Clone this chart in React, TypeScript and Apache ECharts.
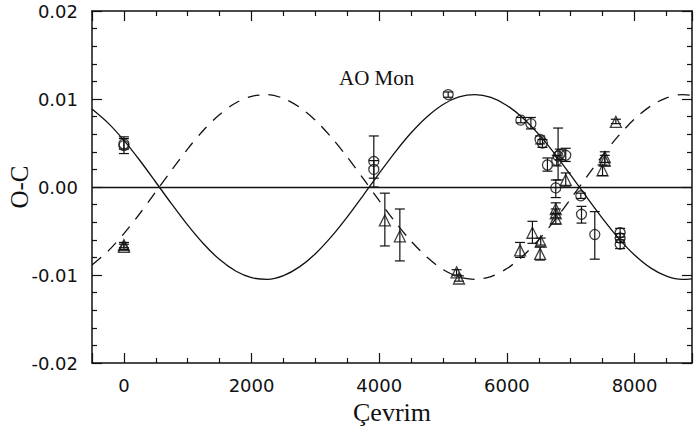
import React, { useEffect, useRef } from "react";
import * as echarts from "echarts";

// Model curves
const curveX = [-500, -250, 0, 250, 500, 750, 1000, 1250, 1500, 1750, 2000, 2250, 2500, 2750, 3000, 3250, 3500, 3750, 4000, 4250, 4500, 4750, 5000, 5250, 5500, 5750, 6000, 6250, 6500, 6750, 7000, 7250, 7500, 7750, 8000, 8250, 8500, 8750, 8900];
const solidY = [0.00887, 0.00729, 0.0053, 0.00301, 0.00054, -0.00195, -0.00434, -0.00648, -0.00825, -0.00955, -0.01031, -0.01049, -0.01007, -0.00908, -0.00758, -0.00564, -0.00339, -0.00094, 0.00156, 0.00397, 0.00616, 0.00799, 0.00938, 0.01023, 0.0105, 0.01018, 0.00927, 0.00785, 0.00598, 0.00377, 0.00134, -0.00116, -0.00359, -0.00583, -0.00773, -0.00919, -0.01013, -0.0105, -0.01043];
const dashedY = [-0.00887, -0.00729, -0.0053, -0.00301, -0.00054, 0.00195, 0.00434, 0.00648, 0.00825, 0.00955, 0.01031, 0.01049, 0.01007, 0.00908, 0.00758, 0.00564, 0.00339, 0.00094, -0.00156, -0.00397, -0.00616, -0.00799, -0.00938, -0.01023, -0.0105, -0.01018, -0.00927, -0.00785, -0.00598, -0.00377, -0.00134, 0.00116, 0.00359, 0.00583, 0.00773, 0.00919, 0.01013, 0.0105, 0.01043];

// Circles (O-C with error bars)
const circleX = [0, 0, 3915, 3915, 5080, 6218, 6376, 6520, 6557, 6635, 6781, 6802, 6830, 6922, 6766, 7158, 7169, 7377, 7774, 7774, 7774];
const circleY = [0.0047, 0.0049, 0.0029, 0.002, 0.0105, 0.0076, 0.0072, 0.0054, 0.005, 0.0025, 0.003, 0.0035, 0.0037, 0.0036, -0.0001, -0.001, -0.0031, -0.0054, -0.0052, -0.0058, -0.0065];
const circleLo = [0.0038, 0.0043, 0.0, 0.001, 0.0102, 0.0073, 0.0066, 0.0049, 0.0045, 0.0018, 0.0024, 0.0008, 0.0031, 0.0029, -0.0012, -0.0013, -0.0041, -0.0082, -0.0057, -0.0063, -0.007];
const circleHi = [0.0057, 0.0055, 0.0058, 0.003, 0.0108, 0.0079, 0.0079, 0.0058, 0.0054, 0.0033, 0.0036, 0.0067, 0.0043, 0.0044, 0.0008, -0.0007, -0.0022, -0.0028, -0.0047, -0.0053, -0.006];

// Triangles
const triX = [0, 0, 4088, 4323, 5212, 5249, 6206, 6400, 6530, 6520, 6766, 6766, 6766, 6922, 7498, 7534, 7534, 7707];
const triY = [-0.0068, -0.0066, -0.0038, -0.0056, -0.0097, -0.0104, -0.0072, -0.0052, -0.0062, -0.0076, -0.0025, -0.003, -0.0036, 0.0008, 0.0019, 0.0034, 0.003, 0.0074];
const triLo = [-0.0071, -0.0069, -0.0067, -0.0084, -0.01, -0.0107, -0.008, -0.0064, -0.0066, -0.0083, -0.003, -0.0035, -0.0042, 0.0001, 0.0013, 0.0028, 0.0024, 0.0072];
const triHi = [-0.0065, -0.0063, -0.0007, -0.0025, -0.0094, -0.0101, -0.0063, -0.0039, -0.0058, -0.0068, -0.0018, -0.0025, -0.003, 0.0016, 0.0025, 0.004, 0.0036, 0.0077];

const xTicksMin = -500;
const xTicksMax = 8900;
const yTicks = [-0.02, -0.01, 0, 0.01, 0.02];

const INK = "#111";

function errRender(params: any, api: any) {
  const x = api.value(0);
  const lo = api.value(2);
  const hi = api.value(3);
  const p1 = api.coord([x, lo]);
  const p2 = api.coord([x, hi]);
  const w = 5;
  const style = { stroke: INK, lineWidth: 1.2 };
  return {
    type: "group",
    children: [
      { type: "line", shape: { x1: p1[0], y1: p1[1], x2: p2[0], y2: p2[1] }, style },
      { type: "line", shape: { x1: p1[0] - w, y1: p1[1], x2: p1[0] + w, y2: p1[1] }, style },
      { type: "line", shape: { x1: p2[0] - w, y1: p2[1], x2: p2[0] + w, y2: p2[1] }, style },
    ],
  };
}

export default function App() {
  const ref = useRef<HTMLDivElement>(null);
  useEffect(() => {
    if (!ref.current) return;
    const chart = echarts.init(ref.current, undefined, { renderer: "svg" });
    const tickFont = { fontFamily: "DejaVu Sans", fontSize: 18, color: INK };
    const baseX = {
      type: "value" as const,
      min: xTicksMin,
      max: xTicksMax,
      splitNumber: 5,
      splitLine: { show: false },
      axisLine: { onZero: false, lineStyle: { color: INK, width: 1.5 } },
      axisTick: { inside: true, length: 10, lineStyle: { color: INK, width: 1.2 } },
      minorTick: { show: true, splitNumber: 4, length: 5, lineStyle: { color: INK, width: 1.2 } },
      minorSplitLine: { show: false },
    };
    const baseY = {
      type: "value" as const,
      min: yTicks[0],
      max: yTicks[yTicks.length - 1],
      interval: 0.01,
      splitLine: { show: false },
      axisLine: { onZero: false, lineStyle: { color: INK, width: 1.5 } },
      axisTick: { inside: true, length: 10, lineStyle: { color: INK, width: 1.2 } },
      minorTick: { show: true, splitNumber: 5, length: 5, lineStyle: { color: INK, width: 1.2 } },
      minorSplitLine: { show: false },
    };
    chart.setOption({
      animation: false,
      backgroundColor: "#fff",
      title: {
        text: "AO Mon",
        left: 334,
        top: 62,
        textStyle: { fontFamily: "Liberation Serif", fontSize: 21, fontWeight: "normal", color: INK },
      },
      grid: { left: 92, right: 2, top: 11, bottom: 70, containLabel: false, outerBoundsMode: "none" } as any,
      xAxis: [
        {
          ...baseX,
          position: "bottom",
          name: "Çevrim",
          nameLocation: "middle",
          nameGap: 36,
          nameMoveOverlap: false,
          nameTextStyle: { fontFamily: "Liberation Serif", fontSize: 26, color: INK },
          axisLabel: {
            ...tickFont,
            margin: 13,
            showMinLabel: false,
            showMaxLabel: false,
            formatter: (v: number) => String(Math.round(v)),
          },
        },
        { ...baseX, position: "top", axisLabel: { show: false } },
      ],
      yAxis: [
        {
          ...baseY,
          position: "left",
          name: "O-C",
          nameLocation: "middle",
          nameRotate: 90,
          nameGap: 60,
          nameMoveOverlap: false,
          nameTextStyle: { fontFamily: "Liberation Serif", fontSize: 25, color: INK },
          axisLabel: {
            ...tickFont,
            margin: 14,
            formatter: (v: number) => (Math.abs(v) < 1e-9 ? "0.00" : v.toFixed(2)),
          },
        },
        { ...baseY, position: "right", axisLabel: { show: false } },
      ],
      series: [
        {
          type: "line",
          name: "model1",
          data: curveX.map((x, i) => [x, solidY[i]]),
          showSymbol: false,
          smooth: 0.3,
          lineStyle: { color: INK, width: 1.3 },
          markLine: {
            silent: true,
            symbol: "none",
            label: { show: false },
            lineStyle: { color: INK, width: 1.3, type: "solid" },
            data: [{ yAxis: 0 }],
          },
        },
        {
          type: "line",
          name: "model2",
          data: curveX.map((x, i) => [x, dashedY[i]]),
          showSymbol: false,
          smooth: 0.3,
          lineStyle: { color: INK, width: 1.3, type: [12, 9] },
        },
        {
          type: "custom",
          name: "errC",
          renderItem: errRender,
          encode: { x: 0, y: 1 },
          data: circleX.map((x, i) => [x, circleY[i], circleLo[i], circleHi[i]]),
          z: 3,
        },
        {
          type: "custom",
          name: "errT",
          renderItem: errRender,
          encode: { x: 0, y: 1 },
          data: triX.map((x, i) => [x, triY[i], triLo[i], triHi[i]]),
          z: 3,
        },
        {
          type: "scatter",
          name: "circles",
          symbol: "circle",
          symbolSize: 10,
          data: circleX.map((x, i) => [x, circleY[i]]),
          itemStyle: { color: "rgba(0,0,0,0)", borderColor: INK, borderWidth: 1.3 },
          z: 4,
        },
        {
          type: "scatter",
          name: "triangles",
          symbol: "triangle",
          symbolSize: 11,
          data: triX.map((x, i) => [x, triY[i]]),
          itemStyle: { color: "rgba(0,0,0,0)", borderColor: INK, borderWidth: 1.3 },
          z: 4,
        },
      ],
    });
    return () => chart.dispose();
  }, []);
  return (
    <div
      ref={ref}
      style={{ position: "fixed", left: 0, top: 0, width: 694, height: 433, background: "#fff" }}
    />
  );
}
